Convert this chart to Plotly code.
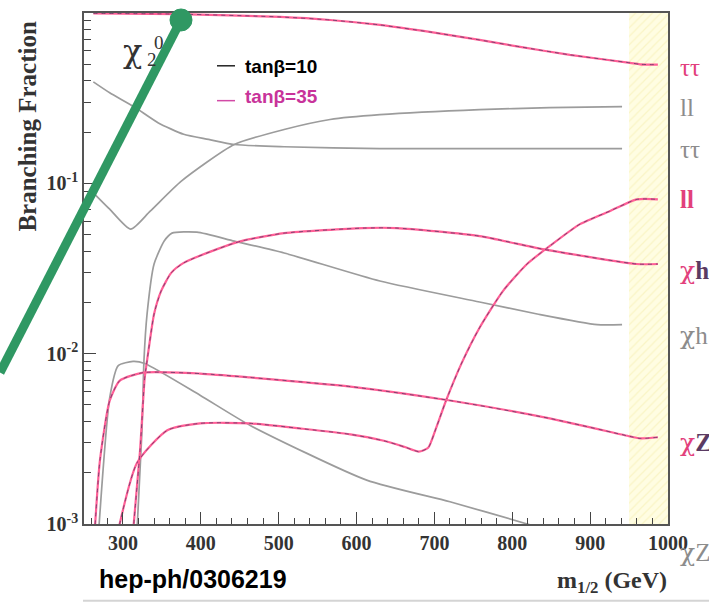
import numpy as np
import plotly.graph_objects as go

# ---------------- data ----------------
# tan(beta)=10  (gray)
g_tautau_x = [262, 283, 314, 345, 378, 410, 443, 507, 630, 760, 850, 941]
g_tautau_y = [0.394, 0.340, 0.282, 0.227, 0.194, 0.181, 0.169, 0.164, 0.160, 0.160, 0.160, 0.160]

g_ll_x = [262, 283, 310, 335, 375, 443, 507, 566, 630, 758, 848, 941]
g_ll_y = [0.088, 0.0705, 0.0538, 0.0686, 0.103, 0.169, 0.207, 0.237, 0.253, 0.271, 0.278, 0.282]

g_chih_x = [318, 324.5, 327, 331, 340, 353, 363, 395, 443, 507, 630, 758, 832, 909, 941]
g_chih_y = [0.0009, 0.00355, 0.0091, 0.0171, 0.0336, 0.0458, 0.0510, 0.0517, 0.0458, 0.0390, 0.0267, 0.0201, 0.0171, 0.0148, 0.0148]

g_chiZ_x = [268, 283, 294, 313, 328, 399, 463, 613, 720, 816, 870]
g_chiZ_y = [0.0008, 0.0055, 0.0085, 0.0090, 0.00875, 0.0057, 0.0038, 0.00181, 0.00135, 0.00101, 0.00085]

# tan(beta)=35  (pink)
p_tautau_x = [262, 373, 502, 566, 630, 694, 758, 810, 874, 951, 964, 987]
p_tautau_y = [0.995, 0.985, 0.948, 0.910, 0.851, 0.774, 0.695, 0.633, 0.568, 0.510, 0.500, 0.497]

p_ll_x = [291, 318, 357, 399, 463, 527, 592, 635, 662, 680, 692, 702, 715, 735, 758, 788, 819, 848, 887, 925, 960, 987]
p_ll_y = [0.0008, 0.00228, 0.00355, 0.0039, 0.0039, 0.00364, 0.00336, 0.00308, 0.00283, 0.00266, 0.00280,
          0.00364, 0.00531, 0.0088, 0.0142, 0.0233, 0.0336, 0.0428, 0.0576, 0.0686, 0.0805, 0.0805]

p_chih_x = [313, 322, 328, 331, 340, 349, 362, 378, 421, 452, 507, 608, 652, 758, 839, 960, 987]
p_chih_y = [0.0009, 0.00271, 0.00725, 0.0091, 0.0171, 0.0233, 0.0298, 0.0341, 0.0411, 0.0458, 0.0510,
            0.0546, 0.0546, 0.0490, 0.0411, 0.0336, 0.0336]

p_chiZ_x = [263, 270.5, 283, 296, 326, 399, 463, 592, 720, 848, 951, 964, 987]
p_chiZ_y = [0.0008, 0.00237, 0.0053, 0.00695, 0.00774, 0.00764, 0.00725, 0.00641, 0.00531, 0.00417,
            0.00327, 0.00318, 0.00323]

band_range = [950, 1000]

x_tickvals = [300, 400, 500, 600, 700, 800, 900, 1000]
x_ticktext = ["300", "400", "500", "600", "700", "800", "900", "1000"]
y_tickvals = [1e-3, 1e-2, 1e-1]
y_ticktext = ["10<sup>-3</sup>", "10<sup>-2</sup>", "10<sup>-1</sup>"]

legend_labels = ["tanβ=10", "tanβ=35"]

# ---------------- styles ----------------
SERIF = "Liberation Serif"
SANS = "Liberation Sans"
CHI = "DejaVu Serif"
GRAY = "#9c9c9c"
PINK = "#ff5f96"
DASHC = "rgba(70,50,95,0.75)"
PINK_TXT = "#e2407c"
DARK_TXT = "#5b3b63"
GRAY_TXT = "#8c8c8c"
GREEN = "#2f9863"

fig = go.Figure()

# yellow hatched band
fig.add_trace(go.Bar(
    x=[(band_range[0] + band_range[1]) / 2], y=[1.0], width=[band_range[1] - band_range[0]],
    marker=dict(color="#fffde2", line_width=0,
                pattern=dict(shape="/", fgcolor="#f4eda8", size=6, solidity=0.2)),
    hoverinfo="skip", showlegend=False))

for xs, ys in [(g_tautau_x, g_tautau_y), (g_ll_x, g_ll_y), (g_chih_x, g_chih_y), (g_chiZ_x, g_chiZ_y)]:
    fig.add_trace(go.Scatter(x=xs, y=ys, mode="lines",
                             line=dict(color=GRAY, width=1.7, shape="spline", smoothing=0.6),
                             hoverinfo="skip", showlegend=False))

for xs, ys in [(p_tautau_x, p_tautau_y), (p_ll_x, p_ll_y), (p_chih_x, p_chih_y), (p_chiZ_x, p_chiZ_y)]:
    fig.add_trace(go.Scatter(x=xs, y=ys, mode="lines",
                             line=dict(color=PINK, width=2.2, shape="spline", smoothing=0.6),
                             hoverinfo="skip", showlegend=False))
    fig.add_trace(go.Scatter(x=xs, y=ys, mode="lines",
                             line=dict(color=DASHC, width=0.9, dash="4px,4px", shape="spline", smoothing=0.6),
                             hoverinfo="skip", showlegend=False))

x_minor = [v for v in range(260, 1000, 20) if v % 100 != 0]
y_minor = [m * 10.0 ** e for e in (-3, -2, -1) for m in range(2, 10)]

fig.update_layout(
    width=709, height=604,
    margin=dict(l=84, r=41, t=11, b=80),
    paper_bgcolor="white", plot_bgcolor="white",
    showlegend=False, barmode="overlay",
    xaxis=dict(range=[250, 1000], tickmode="array", tickvals=x_tickvals, ticktext=x_ticktext,
               ticks="inside", ticklen=12, tickcolor="#444", tickwidth=1,
               showline=True, linecolor="#555", linewidth=1.5, mirror=True,
               showgrid=False, zeroline=False,
               tickfont=dict(family=SERIF, size=20, color="#333", weight="bold"),
               minor=dict(tickmode="array", tickvals=x_minor, ticks="inside", ticklen=6,
                          tickcolor="#444", showgrid=False)),
    yaxis=dict(type="log", range=[-3, 0], tickmode="array", tickvals=y_tickvals, ticktext=y_ticktext,
               ticks="inside", ticklen=12, tickcolor="#444", tickwidth=1,
               showline=True, linecolor="#555", linewidth=1.5, mirror=True,
               showgrid=False, zeroline=False,
               tickfont=dict(family=SERIF, size=20, color="#333", weight="bold"),
               minor=dict(tickmode="array", tickvals=y_minor, ticks="inside", ticklen=7,
                          tickcolor="#444", showgrid=False)),
)

# ---- helper: pixel -> paper ----
L, R, T, B = 84, 668, 11, 524
def px(xp):
    return (xp - L) / (R - L)
def py(yp):
    return (B - yp) / (B - T)

annotations = []
shapes = []

def note(text, x, y, size, color, family=SERIF, xanchor="left", angle=0):
    annotations.append(dict(text=text, xref="paper", yref="paper", x=px(x), y=py(y),
                            showarrow=False, textangle=angle, xanchor=xanchor, yanchor="middle",
                            font=dict(family=family, size=size, color=color)))

def chi(color):
    return f'<span style="font-family:{CHI};color:{color}">χ</span>'

# axis titles and reference
note("<b>Branching Fraction</b>", 28, 125, 25, "#333", xanchor="center", angle=-90)
note("<b>m<sub>1/2</sub> (GeV)</b>", 669, 582, 24, "#333", xanchor="right")
note("<b>hep-ph/0306219</b>", 97, 579, 25, "black", family=SANS)

# chi_2^0 (subscript and superscript stacked)
note("χ", 121, 49, 32, "#333", family=CHI)
note("2", 145, 58, 19, "#333")
note("0", 152, 41, 19, "#333")

# legend
leg = [(legend_labels[0], "#222222", "black", 64, 65),
       (legend_labels[1], "#d24aa6", "#c8339a", 99, 95)]
for text, lcol, tcol, ly, ty in leg:
    shapes.append(dict(type="line", xref="paper", yref="paper",
                       x0=px(217), x1=px(235), y0=py(ly), y1=py(ly),
                       line=dict(color=lcol, width=1.5)))
    note("<b>" + text + "</b>", 243, ty, 19, tcol, family=SANS)

# right-hand labels
def two(c1, t1, c2, t2):
    return f'<span style="color:{c1}">{t1}</span><span style="color:{c2}">{t2}</span>'
right_labels = [
    ("ττ", PINK_TXT, 66),
    ("ll", GRAY_TXT, 106),
    ("ττ", GRAY_TXT, 148),
    ("<b>ll</b>", PINK_TXT, 198),
    (chi(PINK_TXT) + f'<span style="color:{DARK_TXT}"><b>h</b></span>', PINK_TXT, 270),
    (chi(GRAY_TXT) + "h", GRAY_TXT, 335),
    (chi(PINK_TXT) + f'<span style="color:{DARK_TXT}"><b>Z</b></span>', PINK_TXT, 442),
    (chi(GRAY_TXT) + "Z", GRAY_TXT, 553),
]
for text, col, yy in right_labels:
    note(text, 678, yy, 25, col)

# green pointer
shapes.append(dict(type="line", xref="paper", yref="paper", layer="above",
                   x0=px(0), y0=py(372), x1=px(181), y1=py(18),
                   line=dict(color=GREEN, width=9)))
shapes.append(dict(type="circle", xref="paper", yref="paper", layer="above",
                   xsizemode="pixel", ysizemode="pixel", xanchor=px(181), yanchor=py(18),
                   x0=-11, x1=11, y0=-11, y1=11, fillcolor=GREEN, line=dict(color=GREEN, width=1)))
# faint bottom rule
shapes.append(dict(type="line", xref="paper", yref="paper",
                   x0=px(83), x1=px(709), y0=py(601), y1=py(601),
                   line=dict(color="#d4d4d4", width=2)))

fig.update_layout(annotations=annotations, shapes=shapes)
fig.write_html("out.html")
